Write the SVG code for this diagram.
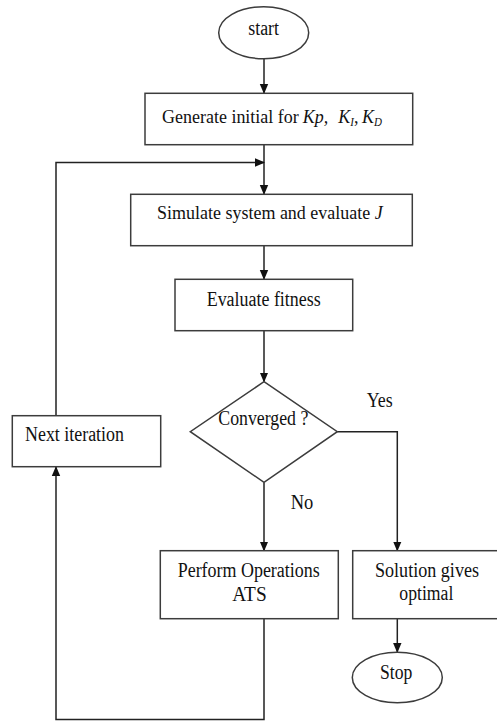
<svg xmlns="http://www.w3.org/2000/svg" width="497" height="721" viewBox="0 0 497 721">
  <style>
    .box { fill: #ffffff; stroke: #3c3c3c; stroke-width: 1.5; }
    .edge { fill: none; stroke: #222222; stroke-width: 1.5; }
    .t { font-family: "Liberation Serif", "Times New Roman", serif; font-size: 20px; fill: #111111; }
    .t18 { font-family: "Liberation Serif", "Times New Roman", serif; font-size: 18px; fill: #111111; }
    .i { font-style: italic; }
    .sub { font-size: 11px; }
  </style>
  <defs>
    <marker id="arrow" markerWidth="10" markerHeight="10" refX="9" refY="5" orient="auto" markerUnits="userSpaceOnUse">
      <path d="M0,0.8 L10,5 L0,9.2 Z" fill="#111111"/>
    </marker>
  </defs>
  <rect x="0" y="0" width="497" height="721" fill="#ffffff"/>

  <g id="connectors">
    <path class="edge" d="M264,59 L264,93" marker-end="url(#arrow)"/>
    <path class="edge" d="M264,145 L264,194" marker-end="url(#arrow)"/>
    <path class="edge" d="M56,416 L56,162.5 L264,162.5" marker-end="url(#arrow)"/>
    <path class="edge" d="M264,246 L264,279" marker-end="url(#arrow)"/>
    <path class="edge" d="M264,331 L264,381.5" marker-end="url(#arrow)"/>
    <path class="edge" d="M264,482.5 L264,550.5" marker-end="url(#arrow)"/>
    <path class="edge" d="M337.3,431.7 L397.3,431.7 L397.3,550.5" marker-end="url(#arrow)"/>
    <path class="edge" d="M397.3,619 L397.3,652" marker-end="url(#arrow)"/>
    <path class="edge" d="M264,619 L264,719.5 L56,719.5 L56,467" marker-end="url(#arrow)"/>
  </g>

  <g id="start">
    <ellipse class="box" cx="263.7" cy="32.7" rx="45" ry="26"/>
    <text class="t" x="248.3" y="35" textLength="30.7" lengthAdjust="spacingAndGlyphs">start</text>
  </g>

  <g id="generate">
    <rect class="box" x="145" y="93.3" width="267.7" height="51.4"/>
    <text class="t18" x="162" y="123" transform="translate(0,123) scale(1,1.1) translate(0,-123)">Generate initial for<tspan class="i" dx="4">Kp,</tspan><tspan class="i" dx="10">K</tspan><tspan class="i sub" dy="3">I</tspan><tspan dy="-3">, </tspan><tspan class="i" dx="-1">K</tspan><tspan class="i sub" dy="3">D</tspan></text>
  </g>

  <g id="simulate">
    <rect class="box" x="130.7" y="194.3" width="281.6" height="51.4"/>
    <text class="t18" x="157" y="219" transform="translate(0,219) scale(1,1.1) translate(0,-219)">Simulate system and evaluate <tspan class="i">J</tspan></text>
  </g>

  <g id="evaluate">
    <rect class="box" x="175" y="279.3" width="177.7" height="51.4"/>
    <text class="t" x="206.7" y="305.7" textLength="114" lengthAdjust="spacingAndGlyphs">Evaluate fitness</text>
  </g>

  <g id="converged">
    <polygon class="box" points="264,381.7 337.3,431.7 264,482.3 190.3,431.7"/>
    <text class="t" x="218.3" y="425" textLength="90" lengthAdjust="spacingAndGlyphs">Converged ?</text>
  </g>

  <g id="next-iteration">
    <rect class="box" x="12.3" y="415.7" width="148.4" height="51"/>
    <text class="t" x="25" y="440.5" textLength="99" lengthAdjust="spacingAndGlyphs">Next iteration</text>
  </g>

  <g id="perform">
    <rect class="box" x="160.3" y="550.7" width="178" height="68"/>
    <text class="t" x="177.7" y="576.5" textLength="142" lengthAdjust="spacingAndGlyphs">Perform Operations</text>
    <text class="t" x="232.3" y="601" textLength="34.4" lengthAdjust="spacingAndGlyphs">ATS</text>
  </g>

  <g id="solution">
    <rect class="box" x="352.7" y="550.7" width="146" height="68"/>
    <text class="t" x="375" y="576.5" textLength="104" lengthAdjust="spacingAndGlyphs">Solution gives</text>
    <text class="t" x="399.3" y="600" textLength="54" lengthAdjust="spacingAndGlyphs">optimal</text>
  </g>

  <g id="stop">
    <ellipse class="box" cx="397.3" cy="677.5" rx="45" ry="25.3"/>
    <text class="t" x="380" y="678.5" textLength="32.3" lengthAdjust="spacingAndGlyphs">Stop</text>
  </g>

  <g id="labels">
    <text class="t" x="366.7" y="406.5" textLength="26" lengthAdjust="spacingAndGlyphs">Yes</text>
    <text class="t" x="290.7" y="508.5" textLength="22.6" lengthAdjust="spacingAndGlyphs">No</text>
  </g>
</svg>
